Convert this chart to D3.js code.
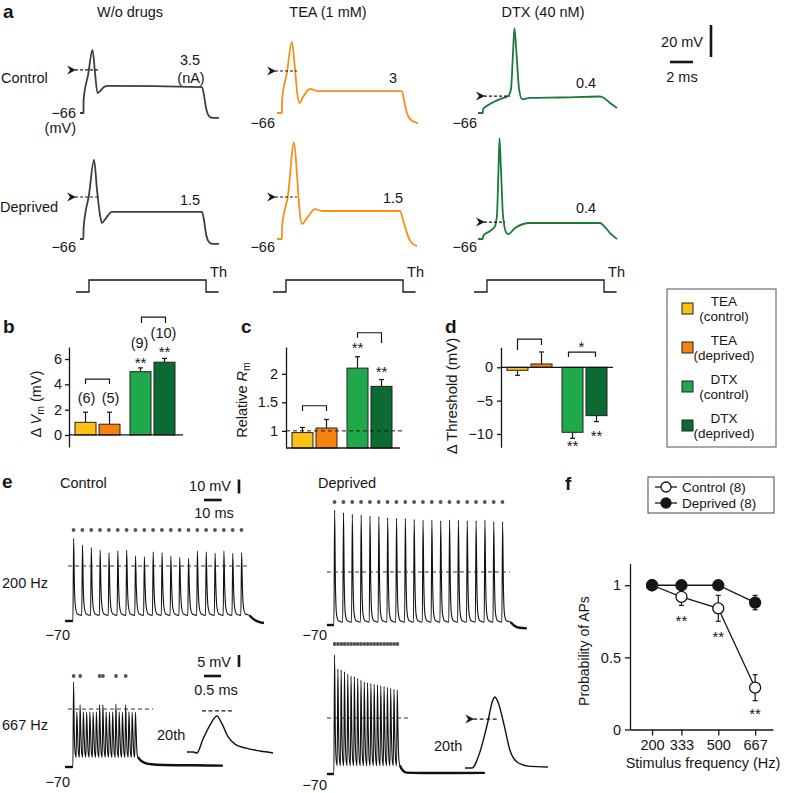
<!DOCTYPE html>
<html><head><meta charset="utf-8">
<script src="https://cdn.jsdelivr.net/npm/d3@7/dist/d3.min.js"></script>
<style>html,body{margin:0;padding:0;background:#fff;}</style>
</head><body>
<script>
// ================= DATA =================
// Panel a: single APs (t = ms from trace start, v = mV)
const woCtrlT  = [0, 0.30, 0.31, 0.70, 1.09, 1.30, 1.52, 1.74, 2.09, 2.43, 10.61, 10.78, 10.96, 11.22, 11.57, 12.09];
const woCtrlV  = [-66, -66, -58, -42.3, -26.6, -40.4, -53.5, -52.3, -49.8, -49.1, -49.8, -54.8, -62.9, -67.9, -69.1, -69.1];
const woDepT   = [0, 0.30, 0.31, 0.78, 1.22, 1.48, 1.74, 1.91, 2.26, 2.78, 10.61, 10.78, 10.96, 11.22, 11.57, 12.09];
const woDepV   = [-66, -66, -59.1, -38.5, -16.6, -35.4, -51, -56, -52.9, -49.1, -49.1, -54.1, -62.9, -67.9, -69.1, -69.1];
const teaCtrlT = [0, 0.43, 0.44, 0.87, 1.30, 1.57, 1.78, 1.96, 2.26, 2.87, 3.57, 10.87, 11.04, 11.30, 11.65, 12.26];
const teaCtrlV = [-66, -66, -57.9, -40.4, -21.6, -39.1, -54.8, -59.8, -56, -51, -52.3, -52.3, -57.9, -66, -70.4, -72.3];
const teaDepT  = [0, 0.43, 0.44, 0.96, 1.48, 1.74, 1.96, 2.17, 2.61, 3.30, 3.91, 10.70, 10.96, 11.30, 11.65, 12.17];
const teaDepV  = [-66, -66, -58.5, -38.5, -5.4, -26, -47.9, -56.6, -52.9, -47.3, -48.5, -48.5, -54.1, -62.3, -67.9, -70.4];
const dtxCtrlT = [0, 0.43, 0.44, 1.04, 1.91, 2.61, 2.87, 3.04, 3.17, 3.35, 3.57, 3.83, 4.52, 7.13, 10.61, 10.96, 11.48, 12.09];
const dtxCtrlV = [-66, -66, -63.5, -60.4, -57.3, -55.4, -51, -29.1, -12.9, -29.1, -51, -57.3, -56.6, -56.3, -55.7, -56.6, -59.8, -62.9];
const dtxDepT  = [0, 0.43, 0.44, 1.04, 1.48, 1.65, 1.78, 1.87, 2.0, 2.17, 2.43, 2.65, 3.22, 4.52, 10.61, 10.96, 11.48, 12.09];
const dtxDepV  = [-66, -66, -64.1, -61, -57.9, -51, -22.9, -2.9, -22.9, -51, -61.6, -62.9, -59.1, -56, -56, -57.9, -62.3, -66];
const aColumns   = ["W/o drugs", "TEA (1 mM)", "DTX (40 nM)"];
const aRows      = ["Control", "Deprived"];
const thrCtrl    = [-39.1, -39.75, -55.4];   // threshold (mV)
const thrDep     = [-39.75, -39.75, -55.4];
const thrFrom    = [-0.43, -0.17, 0.52];     // ms (arrow tip)
const thrToCtrl  = [1.57, 1.74, 2.78];
const thrToDep   = [1.57, 1.74, 2.35];
const currCtrl   = ["3.5", "3", "0.4"];      // injected current (nA)
const currDep    = ["1.5", "1.5", "0.4"];
const stimT      = [-0.35, 0.78, 10.96, 12.05]; // ms: start, onset, offset, end
const stimLevel  = [0, 1, 0, 0];                // level from each time on

// Panels b-d
const barDrug  = ["TEA", "TEA", "DTX", "DTX"];
const barCond  = ["control", "deprived", "control", "deprived"];
const nCells   = ["(6)", "(5)", "(9)", "(10)"];
const dVm      = [1.0, 0.85, 5.0, 5.75];
const dVmErr   = [0.8, 0.95, 0.3, 0.3];
const relRm    = [0.97, 1.05, 2.1, 1.78];
const relRmErr = [0.09, 0.15, 0.2, 0.12];
const dThr     = [-0.45, 0.5, -9.75, -7.25];
const dThrErr  = [0.75, 1.8, 0.9, 0.9];
const vmTicks  = [0, 2, 4, 6];
const rmTicks  = [1, 1.5, 2];
const thTicks  = [0, -5, -10];

// Panel e: spike trains (peak mV of each of 20 responses)
const ctrl200Peaks = [-10.9, -15.7, -17.6, -19.3, -21.2, -19.8, -19.3, -23.6, -24.1, -20.5, -21.2, -23.6, -24.5, -25.2, -20.0, -20.5, -21.6, -20.0, -21.6, -21.2];
const dep200Peaks  = [12.1, 10.2, 9.1, 8.6, 7.9, 7.4, 6.6, 6.2, 6.2, 5.5, 5.0, 5.0, 4.5, 5.0, 5.0, 4.5, 4.5, 5.0, 3.8, 3.8];
const ctrl667Peaks = [-9.3, -30.5, -25.5, -30.5, -31, -30.5, -31, -30.5, -25.5, -25.5, -30.5, -31, -30.5, -25, -30.5, -31, -25.5, -30.5, -31, -31];
const dep667Peaks  = [15, 5, 4.3, 3.1, 1.4, 0, -0.5, -1.6, -2.9, -4.1, -4.8, -5.2, -5.9, -6.4, -7.1, -7.6, -8.1, -8.8, -9.5, -10];
const ctrl200AP = [1,1,1,1,1,1,1,1,1,1,1,1,1,1,1,1,1,1,1,1];
const dep200AP  = [1,1,1,1,1,1,1,1,1,1,1,1,1,1,1,1,1,1,1,1];
const ctrl667AP = [1,0,1,0,0,0,0,0,1,1,0,0,0,1,0,0,1,0,0,0];
const dep667AP  = [1,1,1,1,1,1,1,1,1,1,1,1,1,1,1,1,1,1,1,1];
const ctrl200PostT = [101, 103, 106, 108];     const ctrl200PostV = [-67.5, -69.5, -71, -71.4];
const dep200PostT  = [102, 105, 109];          const dep200PostV  = [-70.5, -72, -72.4];
const ctrl667PostT = [31, 33, 36, 42, 55, 69]; const ctrl667PostV = [-65, -67, -68, -68.6, -68.8, -69];
const dep667PostT  = [31, 33, 40, 55, 68.5];   const dep667PostV  = [-67, -69, -69.3, -69.3, -69.2];
const eThr = [-30.7, -28.6, -32.1, -30.0];     // dashed thresholds: ctrl200, ctrl667, dep200, dep667
// 20th AP insets (ms, mV relative to start)
const ctrlInsetT = [0, 0.18, 0.29, 0.47, 0.68, 0.88, 1.03, 1.21, 1.41, 1.71, 2.15, 2.53];
const ctrlInsetV = [0, 0, -0.4, 5.4, 11.3, 15, 11.7, 6.3, 3.3, 1.7, 0.4, -0.4];
const depInsetT  = [0, 0.2, 0.44, 0.65, 0.82, 0.88, 0.97, 1.15, 1.32, 1.53, 1.85, 2.44];
const depInsetV  = [0, 0, 6.7, 17.9, 28.3, 29.6, 27.5, 17.9, 7.5, 2.5, 0.8, 0.4];

// Panel f
const freqs    = [200, 333, 500, 667];
const probCtrl = [1, 0.92, 0.84, 0.29];
const errCtrl  = [0, 0.06, 0.09, 0.09];
const probDep  = [1, 1, 1, 0.88];
const errDep   = [0, 0, 0, 0.05];
const sigF     = ["", "**", "**", "**"];
const fYTicks  = [0, 0.5, 1];

// ================= DRAWING =================
const FONT = "'Liberation Sans', Arial, Helvetica, sans-serif";
const INK = "#161616";
const FS = 14.5;
const svg = d3.select("body").append("svg").attr("width", 788).attr("height", 793)
  .style("font-family", FONT).style("background", "#fff");

function text(x, y, s, o = {}) {
  const t = svg.append("text").attr("x", x).attr("y", y).text(s)
    .attr("font-size", o.size || FS).attr("text-anchor", o.anchor || "start")
    .attr("fill", o.fill || INK);
  if (o.weight) t.attr("font-weight", o.weight);
  if (o.rotate) t.attr("transform", `rotate(${o.rotate},${x},${y})`);
  return t;
}
function seg(x1, y1, x2, y2, o = {}) {
  const l = svg.append("line").attr("x1", x1).attr("y1", y1).attr("x2", x2).attr("y2", y2)
    .attr("stroke", o.stroke || INK).attr("stroke-width", o.w || 1.2);
  if (o.dash) l.attr("stroke-dasharray", o.dash);
  return l;
}
function arrowHead(x, y) {
  svg.append("path").attr("d", `M${x-9},${y-4.5} L${x},${y} L${x-9},${y+4.5} L${x-6},${y} Z`).attr("fill", INK);
}
const line = d3.line().curve(d3.curveMonotoneX);
const zip = (T, V) => T.map((t, i) => [t, V[i]]);

// ---------- Panel a ----------
text(3, 18, "a", { size: 19, weight: "bold" });
const msPx = 11.5, mvPx = 1.6;
const colX0 = [80, 277, 478];
const rowBase = [113, 239];
const traceSets = [[zip(woCtrlT, woCtrlV), zip(woDepT, woDepV)],
                   [zip(teaCtrlT, teaCtrlV), zip(teaDepT, teaDepV)],
                   [zip(dtxCtrlT, dtxCtrlV), zip(dtxDepT, dtxDepV)]];
const colColors = ["#3e3e3e", "#f5901c", "#1b7a3b"];
const titleX = [130, 328, 543];
const labX = [76, 275, 477];
const labY = [[118, 252], [128, 252], [128, 252]];
const currX = [190, 393, 586];
const currY = [[65, 205], [83, 203], [88, 213]];
aColumns.forEach((name, c) => {
  text(titleX[c], 17, name, { anchor: "middle" });
  const x = d3.scaleLinear().domain([0, 12]).range([colX0[c], colX0[c] + 12 * msPx]);
  rowBase.forEach((b, r) => {
    const y = d3.scaleLinear().domain([-66, -46]).range([b, b - 20 * mvPx]);
    line.x(d => x(d[0])).y(d => y(d[1]));
    svg.append("path").attr("d", line(traceSets[c][r])).attr("fill", "none")
      .attr("stroke", colColors[c]).attr("stroke-width", 1.8).attr("stroke-linejoin", "round");
    const thr = r === 0 ? thrCtrl[c] : thrDep[c];
    const to = r === 0 ? thrToCtrl[c] : thrToDep[c];
    seg(x(thrFrom[c]), y(thr), x(to), y(thr), { dash: "3,2", w: 1.2 });
    arrowHead(x(thrFrom[c]) + 1, y(thr));
    text(labX[c], labY[c][r], "\u221266", { anchor: "end" });
    text(currX[c], currY[c][r], r === 0 ? currCtrl[c] : currDep[c], { anchor: "middle" });
  });
  // stimulus step
  const ys = d3.scaleLinear().domain([0, 1]).range([292, 280]);
  const p = [];
  stimT.forEach((t, i) => {
    if (i > 0 && stimLevel[i] !== stimLevel[i - 1]) p.push([t, stimLevel[i - 1]]);
    p.push([t, stimLevel[i]]);
  });
  svg.append("path").attr("d", d3.line().x(q => x(q[0])).y(q => ys(q[1]))(p))
    .attr("fill", "none").attr("stroke", INK).attr("stroke-width", 1.3);
  text(x(stimT[2]) + 4, 277, "Th");
});
text(1, 83, aRows[0]);
text(0, 212, aRows[1]);
text(76, 133, "(mV)", { anchor: "end" });
text(191, 83, "(nA)", { anchor: "middle" });
// scale bars a
seg(711, 25, 711, 25 + 20 * mvPx, { w: 2.6 });
seg(670, 62, 670 + 2 * msPx, 62, { w: 2.6 });
text(703, 47, "20 mV", { anchor: "end" });
text(682, 82, "2 ms", { anchor: "middle" });

// ---------- Panels b-d ----------
const barColors = { "TEA|control": "#fdc114", "TEA|deprived": "#f7830f", "DTX|control": "#1fa94a", "DTX|deprived": "#0c6a33" };
function bandX(r0) {
  const outer = d3.scaleBand().domain(["TEA", "DTX"]).range([r0, r0 + 100]).paddingInner(10 / 55);
  const inner = d3.scaleBand().domain(["control", "deprived"]).range([0, outer.bandwidth()]).paddingInner(0.125);
  return { x: i => outer(barDrug[i]) + inner(barCond[i]), w: inner.bandwidth(), c: i => outer(barDrug[i]) + inner(barCond[i]) + inner.bandwidth() / 2 };
}
function styleAxis(g) {
  g.attr("font-family", FONT);
  g.select("path.domain").attr("stroke", INK).attr("stroke-width", 1.3);
  g.selectAll(".tick line").attr("stroke", INK).attr("stroke-width", 1.3);
  g.selectAll(".tick text").attr("font-size", FS).attr("fill", INK);
}
function drawBars(vals, errs, y, bx, base) {
  vals.forEach((v, i) => {
    const top = Math.min(y(v), y(base)), h = Math.abs(y(v) - y(base));
    const e = v >= 0 ? v + errs[i] : v - errs[i];
    seg(bx.c(i), y(v), bx.c(i), y(e), { w: 1.2 });
    seg(bx.c(i) - 2.5, y(e), bx.c(i) + 2.5, y(e), { w: 1.2 });
    svg.append("rect").attr("x", bx.x(i)).attr("y", top).attr("width", bx.w).attr("height", h)
      .attr("fill", barColors[barDrug[i] + "|" + barCond[i]]).attr("stroke", "#222").attr("stroke-width", 1);
  });
}
function bracket(x1, x2, yTop, yL, yR) {
  svg.append("path").attr("d", `M${x1},${yL} V${yTop} H${x2} V${yR}`).attr("fill", "none")
    .attr("stroke", INK).attr("stroke-width", 1.2);
}
const fmtMinus = d => (d < 0 ? "\u2212" + Math.abs(d) : String(d));

// b
text(3, 333, "b", { size: 19, weight: "bold" });
const yb = d3.scaleLinear().domain([-0.95, 6.95]).range([447, 347]);
const bxb = bandX(75);
drawBars(dVm, dVmErr, yb, bxb, 0);
seg(69, yb(0), 183, yb(0), { w: 1.3 });
svg.append("g").attr("transform", "translate(69,0)")
  .call(d3.axisLeft(yb).tickValues(vmTicks).tickSize(4).tickSizeOuter(0).tickPadding(3)).call(styleAxis);
[2.53, 2.53, 6.87, 7.66].forEach((v, i) => text(bxb.c(i) + (i < 2 ? 1 : -1), yb(v), nCells[i], { anchor: "middle" }));
text(bxb.c(2), yb(5.29), "**", { anchor: "middle", size: 15 });
text(bxb.c(3), yb(6.16), "**", { anchor: "middle", size: 15 });
bracket(bxb.c(0), bxb.c(1), yb(4.42), yb(4.03), yb(4.03));
bracket(bxb.c(2) + 1, bxb.c(3) + 1, yb(9.31), yb(8.84), yb(8.84));
const lb = svg.append("text").attr("transform", "translate(41,404) rotate(-90)").attr("text-anchor", "middle")
  .attr("font-size", 14.5).attr("fill", INK);
lb.append("tspan").text("\u0394 ");
lb.append("tspan").text("V").attr("font-style", "italic");
lb.append("tspan").text("m").attr("font-size", 10.5).attr("dy", 3);
lb.append("tspan").text(" (mV)").attr("dy", -3);

// c
text(241, 333, "c", { size: 19, weight: "bold" });
const yc = d3.scaleLinear().domain([0.7, 2.47]).range([448, 347]);
const bxc = bandX(292);
drawBars(relRm, relRmErr, yc, bxc, 0.7);
seg(286, yc(1), 402, yc(1), { dash: "4,3", w: 1 });
seg(286, yc(0.7), 400, yc(0.7), { w: 1.3 });
svg.append("g").attr("transform", "translate(286,0)")
  .call(d3.axisLeft(yc).tickValues(rmTicks).tickSize(4).tickSizeOuter(0).tickPadding(4).tickFormat(d3.format("~g"))).call(styleAxis);
text(bxc.c(2), yc(2.37), "**", { anchor: "middle", size: 15 });
text(bxc.c(3), yc(1.95), "**", { anchor: "middle", size: 15 });
bracket(bxc.c(0), bxc.c(1), yc(1.44), yc(1.35), yc(1.35));
bracket(bxc.c(2), bxc.c(3), yc(2.72), yc(2.63), yc(2.54));
const lc = svg.append("text").attr("transform", "translate(247,400) rotate(-90)").attr("text-anchor", "middle")
  .attr("font-size", 14.5).attr("fill", INK);
lc.append("tspan").text("Relative ");
lc.append("tspan").text("R").attr("font-style", "italic");
lc.append("tspan").text("m").attr("font-size", 10.5).attr("dy", 3);

// d
text(445, 333, "d", { size: 19, weight: "bold" });
const yd = d3.scaleLinear().domain([-12, 3]).range([447.3, 347.3]);
const bxd = bandX(507);
drawBars(dThr, dThrErr, yd, bxd, 0);
seg(501, yd(0), 613, yd(0), { w: 1.3 });
svg.append("g").attr("transform", "translate(501,0)")
  .call(d3.axisLeft(yd).tickValues(thTicks).tickSize(4).tickSizeOuter(0).tickPadding(4).tickFormat(fmtMinus)).call(styleAxis);
bracket(bxd.c(0), bxd.c(1), yd(4.24), yd(2.6), yd(3.34));
bracket(bxd.c(2) - 4, bxd.c(3) - 1, yd(2.29), yd(1.54), yd(1.54));
text((bxd.c(2) + bxd.c(3)) / 2 - 3, yd(2.6) + 2, "*", { anchor: "middle", size: 15 });
text(bxd.c(2), yd(-12.55), "**", { anchor: "middle", size: 15 });
text(bxd.c(3), yd(-11.05), "**", { anchor: "middle", size: 15 });
text(457, 396, "\u0394 Threshold (mV)", { anchor: "middle", rotate: -90, size: 15 });

// legend b-d
svg.append("rect").attr("x", 667).attr("y", 289).attr("width", 109).attr("height", 158)
  .attr("fill", "none").attr("stroke", "#555").attr("stroke-width", 1);
barDrug.forEach((dr, i) => {
  const y0 = 303 + i * 39;
  svg.append("rect").attr("x", 682).attr("y", y0).attr("width", 11).attr("height", 11)
    .attr("fill", barColors[dr + "|" + barCond[i]]).attr("stroke", "#222").attr("stroke-width", 1);
  text(724, y0 + 3, dr, { anchor: "middle", size: 13.5 });
  text(724, y0 + 18, "(" + barCond[i] + ")", { anchor: "middle", size: 13.5 });
});

// ---------- Panel e ----------
text(2, 488, "e", { size: 19, weight: "bold" });
text(60, 488, "Control");
text(318, 488, "Deprived");
function buildTrain(peaks, interval, offT, offV, preT, postT, postV) {
  const pts = [[preT, -70], [-0.05, -70]];
  peaks.forEach((p, k) => {
    const t0 = k * interval;
    offT.forEach((o, j) => pts.push([t0 + o, j === 0 ? p : offV[j]]));
  });
  postT.forEach((t, i) => pts.push([t, postV[i]]));
  return pts;
}
const tpl200T = [0.35, 0.8, 1.4, 2.5, 4.95];
const tpl667T = [0.25, 0.6, 1.0, 1.45];
const trains = [
  { peaks: ctrl200Peaks, ap: ctrl200AP, iv: 5, offT: tpl200T, offV: [0, -45, -60, -65, -66], pre: -4.5, postT: ctrl200PostT, postV: ctrl200PostV,
    x0: 73, pxms: 1.768, base: 621, dotY: 530, thr: eThr[0], dash: [-2.8, 100] },
  { peaks: ctrl667Peaks, ap: ctrl667AP, iv: 1.5, offT: tpl667T, offV: [0, -45, -60, -63], pre: -3.7, postT: ctrl667PostT, postV: ctrl667PostV,
    x0: 73, pxms: 2.17, base: 767, dotY: 676, thr: eThr[1], dash: [-2.3, 36.9] },
  { peaks: dep200Peaks, ap: dep200AP, iv: 5, offT: tpl200T, offV: [0, -40, -62, -67, -68], pre: -4, postT: dep200PostT, postV: dep200PostV,
    x0: 334, pxms: 1.768, base: 625, dotY: 502, thr: eThr[2], dash: [-4, 99.5] },
  { peaks: dep667Peaks, ap: dep667AP, iv: 1.5, offT: tpl667T, offV: [0, -40, -60, -64], pre: -3.2, postT: dep667PostT, postV: dep667PostV,
    x0: 334, pxms: 2.2, base: 774, dotY: 644, thr: eThr[3], dash: [-3.2, 34.5] }
];
trains.forEach(tr => {
  const x = d3.scaleLinear().domain([0, 10]).range([tr.x0, tr.x0 + 10 * tr.pxms]);
  const y = d3.scaleLinear().domain([-70, -60]).range([tr.base, tr.base - 14]);
  const pts = buildTrain(tr.peaks, tr.iv, tr.offT, tr.offV, tr.pre, tr.postT, tr.postV);
  const lg = d3.line().x(d => x(d[0])).y(d => y(d[1])).curve(d3.curveMonotoneX);
  svg.append("path").attr("d", lg(pts)).attr("fill", "none").attr("stroke", "#111").attr("stroke-width", 1.1);
  const lastT = (tr.peaks.length - 1) * tr.iv + tr.offT[tr.offT.length - 1];
  const post = pts.filter(p => p[0] >= lastT);
  svg.append("path").attr("d", lg(post)).attr("fill", "none").attr("stroke", "#111").attr("stroke-width", 2.4);
  svg.append("path").attr("d", lg(pts.slice(0, 2))).attr("fill", "none").attr("stroke", "#111").attr("stroke-width", 2.4);
  seg(x(tr.dash[0]), y(tr.thr), x(tr.dash[1]), y(tr.thr), { dash: "4,3", w: 1, stroke: "#333" });
  tr.ap.forEach((a, k) => {
    if (a) svg.append("circle").attr("cx", x(k * tr.iv + 0.3)).attr("cy", tr.dotY).attr("r", 1.9).attr("fill", "#555");
  });
});
text(2, 588, "200 Hz");
text(2, 730, "667 Hz");
text(70, 640, "\u221270", { anchor: "end" });
text(70, 787, "\u221270", { anchor: "end" });
text(327, 640, "\u221270", { anchor: "end" });
text(327, 790, "\u221270", { anchor: "end" });
// e scale bars
seg(239, 479.5, 239, 479.5 + 10 * 1.4, { w: 2.6 });
seg(204, 500, 204 + 10 * 1.768, 500, { w: 2.6 });
text(231, 491, "10 mV", { anchor: "end" });
text(214, 518, "10 ms", { anchor: "middle" });
seg(239, 655, 239, 655 + 5 * 2.4, { w: 2.6 });
seg(204, 676, 204 + 0.5 * 34, 676, { w: 2.6 });
text(231, 667, "5 mV", { anchor: "end" });
text(216, 695, "0.5 ms", { anchor: "middle" });
// insets
[{ T: ctrlInsetT, V: ctrlInsetV, x0: 187, b: 752, thr: 17.1, d: [0.44, 1.32], arrow: false, lx: 157, ly: 740 },
 { T: depInsetT, V: depInsetV, x0: 465, b: 768, thr: 20.4, d: [0.24, 0.97], arrow: true, lx: 434, ly: 751 }]
.forEach(s => {
  const x = d3.scaleLinear().domain([0, 1]).range([s.x0, s.x0 + 34]);
  const y = d3.scaleLinear().domain([0, 5]).range([s.b, s.b - 12]);
  svg.append("path").attr("d", d3.line().x(d => x(d[0])).y(d => y(d[1])).curve(d3.curveMonotoneX)(zip(s.T, s.V)))
    .attr("fill", "none").attr("stroke", "#111").attr("stroke-width", 1.4);
  seg(x(s.d[0]), y(s.thr), x(s.d[1]), y(s.thr), { dash: "4,2.5", w: 1.2 });
  if (s.arrow) arrowHead(x(s.d[0]) + 1, y(s.thr));
  text(s.lx, s.ly, "20th");
});

// ---------- Panel f ----------
text(565, 490, "f", { size: 19, weight: "bold" });
const xf = d3.scaleLinear().domain([100, 748]).range([630, 773]);
const yf = d3.scaleLinear().domain([0, 1.15]).range([729.5, 563.6]);
svg.append("g").attr("transform", "translate(630,0)")
  .call(d3.axisLeft(yf).tickValues(fYTicks).tickSize(5).tickSizeOuter(0).tickPadding(4).tickFormat(d3.format("~g"))).call(styleAxis);
svg.append("g").attr("transform", `translate(0,${yf(0)})`)
  .call(d3.axisBottom(xf).tickValues(freqs).tickSize(6).tickSizeOuter(0).tickPadding(4)).call(styleAxis);
text(703, 768, "Stimulus frequency (Hz)", { anchor: "middle" });
text(589, 651, "Probability of APs", { anchor: "middle", rotate: -90, size: 14 });
const fl = d3.line().x((d, i) => xf(freqs[i])).y(d => yf(d));
[[probCtrl, errCtrl], [probDep, errDep]].forEach(([p, e]) => {
  svg.append("path").attr("d", fl(p)).attr("fill", "none").attr("stroke", INK).attr("stroke-width", 1.3);
  p.forEach((v, i) => {
    if (e[i] > 0) {
      seg(xf(freqs[i]), yf(v - e[i]), xf(freqs[i]), yf(v + e[i]), { w: 1.2 });
      seg(xf(freqs[i]) - 2.5, yf(v - e[i]), xf(freqs[i]) + 2.5, yf(v - e[i]), { w: 1.2 });
      seg(xf(freqs[i]) - 2.5, yf(v + e[i]), xf(freqs[i]) + 2.5, yf(v + e[i]), { w: 1.2 });
    }
  });
});
[[probCtrl, "#fff"], [probDep, INK]].forEach(([p, fill]) => {
  p.forEach((v, i) => svg.append("circle").attr("cx", xf(freqs[i])).attr("cy", yf(v)).attr("r", 5.5)
    .attr("fill", fill).attr("stroke", INK).attr("stroke-width", 1.3));
});
const sigY = [0, 0.72, 0.61, 0.07];
sigF.forEach((s, i) => { if (s) text(xf(freqs[i]), yf(sigY[i]), s, { anchor: "middle", size: 15 }); });
// legend f
svg.append("rect").attr("x", 648).attr("y", 477).attr("width", 126).attr("height", 36)
  .attr("fill", "none").attr("stroke", "#444").attr("stroke-width", 1);
[["Control (8)", "#fff"], ["Deprived (8)", INK]].forEach(([lab, fill], i) => {
  const yy = 487 + i * 16;
  seg(655, yy, 677, yy, { w: 1.3 });
  svg.append("circle").attr("cx", 666).attr("cy", yy).attr("r", 5).attr("fill", fill).attr("stroke", INK).attr("stroke-width", 1.3);
  text(682, yy + 5, lab, { size: 13.5 });
});
</script>
</body></html>
